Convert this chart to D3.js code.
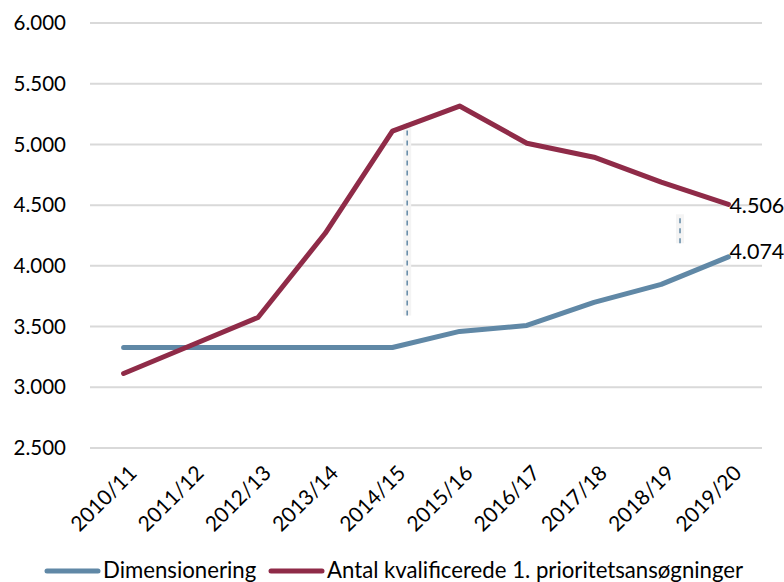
<!DOCTYPE html>
<html>
<head>
<meta charset="utf-8">
<script src="https://cdn.jsdelivr.net/npm/d3@7"></script>
<style>
  html, body { margin: 0; padding: 0; background: #fff; }
  svg { display: block; font-family: Lato, "Open Sans", sans-serif; }
</style>
</head>
<body>
<svg id="chart" width="784" height="582"></svg>
<script>

// DATA
// ----------------------------------------------------------------------------

var years = ['2010/11', '2011/12', '2012/13', '2013/14', '2014/15',
             '2015/16', '2016/17', '2017/18', '2018/19', '2019/20'];

var dimensionering = [3328, 3328, 3328, 3328, 3328,
                      3460, 3509, 3699, 3848, 4074];

var ansoegninger = [3114, 3344, 3575, 4268, 5109,
                    5316, 5010, 4895, 4689, 4506];

var yTicks = [2500, 3000, 3500, 4000, 4500, 5000, 5500, 6000];

// Dashed gap markers: year index, offset toward next year, from, to.
var gapIndex = [4, 8];
var gapOffset = [0.22, 0.28];
var gapFrom = [3592, 4186];
var gapTo = [5175, 4425];

var seriesNames = ['Dimensionering',
                   'Antal kvalificerede 1. prioritetsansøgninger'];
var seriesColors = ['#6088a6', '#8f2b48'];


// SCALES
// ----------------------------------------------------------------------------

var svg = d3.select('#chart');

var x = d3.scalePoint().domain(years).range([90, 762]).padding(0.5);
var y = d3.scaleLinear().domain([2500, 6000]).range([448, 23]);

// Danish thousands separator.
var fmt = function(v) { return d3.format(',')(v).replace(/,/g, '.'); };

// Gridlines.
svg.append('g').selectAll('line').data(yTicks).enter().append('line')
  .attr('x1', 90).attr('x2', 762)
  .attr('y1', function(d) { return y(d); })
  .attr('y2', function(d) { return y(d); })
  .attr('stroke', '#d9d9d9').attr('stroke-width', 2);

// Y labels.
svg.append('g').selectAll('text').data(yTicks).enter().append('text')
  .attr('x', 66).attr('y', function(d) { return y(d); })
  .attr('dy', '0.35em').attr('text-anchor', 'end')
  .attr('font-size', 20.5).attr('fill', '#000')
  .text(function(d) { return d3.format('.3f')(d / 1000); });

// X labels.
svg.append('g').selectAll('text').data(years).enter().append('text')
  .attr('transform', function(d) {
    return 'translate(' + (x(d) + 4) + ',464) rotate(-45)';
  })
  .attr('text-anchor', 'end').attr('dy', '0.7em')
  .attr('font-size', 21).attr('fill', '#000')
  .text(function(d) { return d; });


// DASHED MARKERS
// ----------------------------------------------------------------------------

var step = x.step();
gapIndex.forEach(function(idx, i) {
  var gx = x(years[idx]) + gapOffset[i] * step;
  svg.append('line')
    .attr('x1', gx).attr('x2', gx)
    .attr('y1', y(gapFrom[i])).attr('y2', y(gapTo[i]))
    .attr('stroke', '#f4f4f4').attr('stroke-width', 8);
  svg.append('line')
    .attr('x1', gx).attr('x2', gx)
    .attr('y1', y(gapFrom[i])).attr('y2', y(gapTo[i]))
    .attr('stroke', seriesColors[0]).attr('stroke-width', 1.5)
    .attr('stroke-dasharray', '5,5');
});


// LINES
// ----------------------------------------------------------------------------

var line = d3.line()
  .x(function(d, i) { return x(years[i]); })
  .y(function(d) { return y(d); });

var labelDy = ['0.12em', '0.38em'];

[dimensionering, ansoegninger].forEach(function(series, i) {
  svg.append('path')
    .attr('d', line(series))
    .attr('fill', 'none')
    .attr('stroke', seriesColors[i])
    .attr('stroke-width', 5)
    .attr('stroke-linecap', 'round')
    .attr('stroke-linejoin', 'round');

  // End label.
  var last = series.length - 1;
  svg.append('text')
    .attr('x', x(years[last]) + 1).attr('y', y(series[last]))
    .attr('dy', labelDy[i])
    .attr('font-size', 21.5).attr('fill', '#000')
    .text(fmt(series[last]));
});


// LEGEND
// ----------------------------------------------------------------------------

var legendX = [47, 271];
seriesNames.forEach(function(name, i) {
  var g = svg.append('g')
    .attr('transform', 'translate(' + legendX[i] + ',571)');
  g.append('line').attr('x1', 0).attr('x2', 51)
    .attr('stroke', seriesColors[i]).attr('stroke-width', 5)
    .attr('stroke-linecap', 'round');
  g.append('text').attr('x', 56).attr('dy', '0.3em')
    .attr('font-size', 22.2).attr('fill', '#000').text(name);
});

</script>
</body>
</html>
